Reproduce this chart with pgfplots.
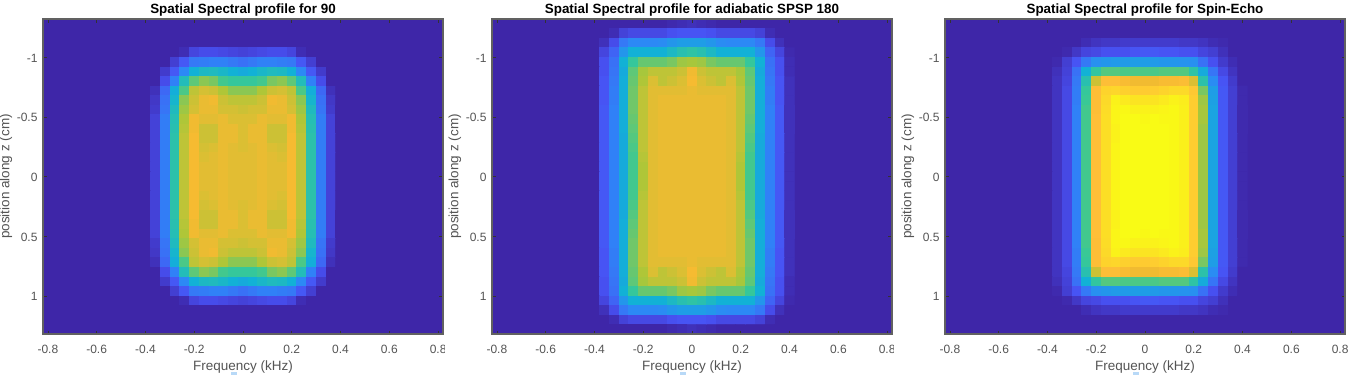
\documentclass[border=0pt]{standalone}
\usepackage{pgfplots}
\usepackage{pgfplotstable}
\usepackage{fontspec}
\setmainfont{Liberation Sans}
\pgfplotsset{compat=1.18}
\definecolor{parbg}{rgb}{0.2422,0.1504,0.6603}
\definecolor{axgray}{gray}{0.38}
\definecolor{tickgray}{gray}{0.20}
\definecolor{labgray}{gray}{0.33}
\definecolor{speck}{rgb}{0.72,0.85,0.97}

% rows: y=-1.28..1.28 step 0.08 ; columns: x=-0.40..0.40 step 0.04
\pgfplotstableread[header=false]{
0 0 0 0 0 0 0 0 0 0 0 0 0 0 0 0 0 0 0 0 0
0 0 0 0 0 0 0 0 0 0 0 0 0 0 0 0 0 0 0 0 0
0 0 0 0 0 0 0 0 0 0 0 0 0 0 0 0 0 0 0 0 0
0 0 0 0 2 9 11 11 10 9 8 9 10 11 11 9 2 0 0 0 0
0 0 0 7 14 22 23 24 24 22 20 22 24 24 23 22 14 7 0 0 0
0 0 6 14 26 38 42 43 41 38 36 38 41 43 42 38 26 14 6 0 0
0 0 11 24 44 55 60 58 52 50 50 50 52 58 60 55 44 24 11 0 0
0 3 18 37 53 66 69 68 64 60 60 60 64 68 69 66 53 37 18 3 0
0 5 20 40 60 68 72 73 68 66 66 66 68 73 72 68 60 40 20 5 0
0 6 21 43 62 69 72 72 69 69 68 69 69 72 72 69 62 43 21 6 0
0 8 23 45 64 73 71 71 72 70 70 70 72 71 71 73 64 45 23 8 0
0 8 23 46 65 73 68 68 72 72 70 72 72 68 68 73 65 46 23 8 0
0 8 23 47 66 74 68 68 72 72 70 72 72 68 68 74 66 47 23 8 0
0 8 23 47 66 74 69 70 72 71 70 71 72 70 69 74 66 47 23 8 0
0 8 23 47 66 74 70 71 72 71 71 71 72 71 70 74 66 47 23 8 0
0 8 23 47 66 74 71 71 72 71 71 71 72 71 71 74 66 47 23 8 0
0 8 23 47 66 74 71 71 72 71 71 71 72 71 71 74 66 47 23 8 0
0 8 23 47 66 74 71 71 72 71 71 71 72 71 71 74 66 47 23 8 0
0 8 23 47 66 74 70 71 72 71 71 71 72 71 70 74 66 47 23 8 0
0 8 23 47 66 74 69 70 72 71 70 71 72 70 69 74 66 47 23 8 0
0 8 23 47 66 74 68 68 72 72 70 72 72 68 68 74 66 47 23 8 0
0 8 23 46 65 73 68 68 72 72 70 72 72 68 68 73 65 46 23 8 0
0 8 23 45 64 73 71 71 72 70 70 70 72 71 71 73 64 45 23 8 0
0 6 21 43 62 69 72 72 69 69 68 69 69 72 72 69 62 43 21 6 0
0 5 20 40 60 68 72 73 68 66 66 66 68 73 72 68 60 40 20 5 0
0 3 18 37 53 66 69 68 64 60 60 60 64 68 69 66 53 37 18 3 0
0 0 11 24 44 55 60 58 52 50 50 50 52 58 60 55 44 24 11 0 0
0 0 6 14 26 38 42 43 41 38 36 38 41 43 42 38 26 14 6 0 0
0 0 0 7 14 22 23 24 24 22 20 22 24 24 23 22 14 7 0 0 0
0 0 0 0 2 9 11 11 10 9 8 9 10 11 11 9 2 0 0 0 0
0 0 0 0 0 0 0 0 0 0 0 0 0 0 0 0 0 0 0 0 0
0 0 0 0 0 0 0 0 0 0 0 0 0 0 0 0 0 0 0 0 0
0 0 0 0 0 0 0 0 0 0 0 0 0 0 0 0 0 0 0 0 0
}\tabA

\pgfplotstableread[header=false]{
0 0 0 0 0 0 0 0 1 2 3 2 1 0 0 0 0 0 0 0 0
0 0 2 8 10 10 10 10 12 13 13 13 12 10 10 10 10 8 2 0 0
0 3 11 22 26 26 26 27 30 32 32 32 30 27 26 26 26 22 11 3 0
0 9 17 30 38 38 38 38 42 46 48 46 42 38 38 38 38 30 17 9 1
0 12 20 38 50 56 56 56 58 62 63 62 58 56 56 56 50 38 20 12 2
0 12 21 36 55 63 66 66 66 68 73 68 66 66 66 63 55 36 21 12 2
0 13 22 37 56 64 70 66 68 70 74 70 68 66 70 64 56 37 22 13 3
0 13 23 37 57 66 71 71 71 71 72 71 71 71 71 66 57 37 23 13 3
0 13 23 37 57 66 71 72 72 72 72 72 72 72 71 66 57 37 23 13 3
0 14 24 37 57 66 71 72 72 72 72 72 72 72 71 66 57 37 24 14 3
0 14 24 37 56 66 71 72 72 72 72 72 72 72 71 66 56 37 24 14 3
0 14 24 37 55 66 71 72 72 72 72 72 72 72 71 66 55 37 24 14 3
0 14 24 36 54 66 71 72 72 72 72 72 72 72 71 66 54 36 24 14 3
0 14 24 36 53 66 71 72 72 72 72 72 72 72 71 66 53 36 24 14 3
0 14 24 36 52 65 71 72 72 72 72 72 72 72 71 65 52 36 24 14 3
0 14 24 36 52 64 71 72 72 72 72 72 72 72 71 64 52 36 24 14 3
0 14 24 36 52 64 71 72 72 72 72 72 72 72 71 64 52 36 24 14 3
0 14 24 36 52 64 71 72 72 72 72 72 72 72 71 64 52 36 24 14 3
0 14 24 36 52 65 71 72 72 72 72 72 72 72 71 65 52 36 24 14 3
0 14 24 36 53 66 71 72 72 72 72 72 72 72 71 66 53 36 24 14 3
0 14 24 36 54 66 71 72 72 72 72 72 72 72 71 66 54 36 24 14 3
0 14 24 37 55 66 71 72 72 72 72 72 72 72 71 66 55 37 24 14 3
0 14 24 37 56 66 71 72 72 72 72 72 72 72 71 66 56 37 24 14 3
0 14 24 37 57 66 71 72 72 72 72 72 72 72 71 66 57 37 24 14 3
0 13 23 37 57 66 71 72 72 72 72 72 72 72 71 66 57 37 23 13 3
0 13 23 37 57 66 71 71 71 71 72 71 71 71 71 66 57 37 23 13 3
0 13 22 37 56 64 70 66 68 70 74 70 68 66 70 64 56 37 22 13 3
0 12 21 36 55 63 66 66 66 68 73 68 66 66 66 63 55 36 21 12 2
0 12 20 38 50 56 56 56 58 62 63 62 58 56 56 56 50 38 20 12 2
0 9 17 30 38 38 38 38 42 46 48 46 42 38 38 38 38 30 17 9 1
0 3 11 22 26 26 26 27 30 32 32 32 30 27 26 26 26 22 11 3 0
0 0 2 8 10 10 10 10 12 13 13 13 12 10 10 10 10 8 2 0 0
0 0 0 0 0 0 0 0 1 2 3 2 1 0 0 0 0 0 0 0 0
}\tabB

\pgfplotstableread[header=false]{
0 0 0 0 0 0 0 0 0 0 0 0 0 0 0 0 0 0 0 0 0
0 0 0 0 0 0 0 0 0 0 0 0 0 0 0 0 0 0 0 0 0
0 0 0 0 2 4 5 5 6 6 6 6 6 6 5 5 4 2 1 0 0
0 0 1 5 9 10 12 12 12 13 14 14 13 13 12 12 9 7 3 0 0
0 1 7 13 22 28 30 31 31 32 32 31 30 30 29 28 20 12 6 2 0
0 3 8 20 38 49 54 54 53 53 53 53 54 54 54 48 36 21 10 4 0
0 4 9 22 46 68 78 78 75 73 73 73 75 75 77 70 47 27 13 6 0
0 4 10 23 50 78 86 87 85 83 83 84 86 88 88 82 58 32 14 7 1
0 4 10 23 51 78 88 97 94 92 92 92 94 97 95 84 62 33 14 7 1
0 4 10 24 52 78 89 98 99 97 97 97 98 99 96 84 63 34 14 7 1
0 4 10 24 52 79 90 98 100 100 99 100 99 99 96 84 63 34 14 7 1
0 4 10 24 52 79 90 97 100 100 100 100 100 99 96 84 62 34 14 7 1
0 4 10 24 52 79 90 97 100 100 100 100 100 99 96 84 62 34 14 7 1
0 4 10 24 52 79 90 98 100 100 100 100 100 99 96 84 62 34 14 7 1
0 4 10 24 52 79 90 98 100 100 100 100 100 99 96 84 62 34 14 7 1
0 4 10 24 52 79 90 98 100 100 100 100 100 99 96 84 62 34 14 7 1
0 4 10 24 52 79 90 98 100 100 100 100 100 99 96 84 62 34 14 7 1
0 4 10 24 52 79 90 98 100 100 100 100 100 99 96 84 62 34 14 7 1
0 4 10 24 52 79 90 98 100 100 100 100 100 99 96 84 62 34 14 7 1
0 4 10 24 52 79 90 98 100 100 100 100 100 99 96 84 62 34 14 7 1
0 4 10 24 52 79 90 97 100 100 100 100 100 99 96 84 62 34 14 7 1
0 4 10 24 52 79 90 97 100 100 100 100 100 99 96 84 62 34 14 7 1
0 4 10 24 52 79 90 98 100 100 99 100 99 99 96 84 63 34 14 7 1
0 4 10 24 52 78 89 98 99 97 97 97 98 99 96 84 63 34 14 7 1
0 4 10 23 51 78 88 97 94 92 92 92 94 97 95 84 62 33 14 7 1
0 4 10 23 50 78 86 87 85 83 83 84 86 88 88 82 58 32 14 7 1
0 4 9 22 46 68 78 78 75 73 73 73 75 75 77 70 47 27 13 6 0
0 3 8 20 38 49 54 54 53 53 53 53 54 54 54 48 36 21 10 4 0
0 1 7 13 22 28 30 31 31 32 32 31 30 30 29 28 20 12 6 2 0
0 0 1 5 9 10 12 12 12 13 14 14 13 13 12 12 9 7 3 0 0
0 0 0 0 2 4 5 5 6 6 6 6 6 6 5 5 4 2 1 0 0
0 0 0 0 0 0 0 0 0 0 0 0 0 0 0 0 0 0 0 0 0
0 0 0 0 0 0 0 0 0 0 0 0 0 0 0 0 0 0 0 0 0
}\tabC

% turns a table into the coordinate list of a matrix plot
\newcommand{\buildpts}[2]{%
  \gdef#2{}%
  \pgfplotsforeachungrouped \i in {0,...,32}{%
    \pgfmathsetmacro\yy{-1.28+0.08*\i}%
    \pgfplotsforeachungrouped \j in {0,...,20}{%
      \pgfmathsetmacro\xx{-0.40+0.04*\j}%
      \pgfplotstablegetelem{\i}{[index]\j}\of#1%
      \xdef#2{#2 (\xx,\yy) [\pgfplotsretval]}%
    }%
  }%
}
\buildpts{\tabA}{\ptsA}
\buildpts{\tabB}{\ptsB}
\buildpts{\tabC}{\ptsC}

\pgfplotsset{
  panel/.style={
    scale only axis, width=400pt, height=315pt,
    anchor=south west,
    xmin=-0.82, xmax=0.82, ymin=-1.32, ymax=1.32,
    y dir=reverse,
    axis on top,
    axis background/.style={fill=parbg},
    xtick={-0.8,-0.6,-0.4,-0.2,0,0.2,0.4,0.6,0.8},
    xticklabels={-0.8,-0.6,-0.4,-0.2,0,0.2,0.4,0.6,0.8},
    ytick={-1,-0.5,0,0.5,1},
    yticklabels={-1,-0.5,0,0.5,1},
    tick align=inside, tickwidth=3.5pt,
    tick style={tickgray,line width=0.6pt},
    axis line style={axgray,line width=1.2pt},
    ticklabel style={font=\fontsize{12}{14}\selectfont,text=labgray},
    xticklabel style={yshift=-8pt},
    yticklabel style={xshift=-2pt,yshift=-1pt},
    xlabel={Frequency (kHz)},
    ylabel={position along z (cm)},
    label style={font=\fontsize{13.5}{15}\selectfont,text=labgray},
    xlabel style={at={(axis description cs:0.5,0)},anchor=center,yshift=-33.5pt},
    ylabel style={at={(axis description cs:0,0.5)},anchor=center,yshift=37pt},
    title style={font=\bfseries\fontsize{13.4}{15}\selectfont,at={(axis description cs:0.5,1)},anchor=base,yshift=0pt},
    colormap={par}{
      rgb(0pt)=(0.2422,0.1504,0.6603)
      rgb(127pt)=(0.2810,0.3228,0.9579)
      rgb(254pt)=(0.1786,0.5289,0.9682)
      rgb(381pt)=(0.0689,0.6948,0.8394)
      rgb(508pt)=(0.2161,0.7843,0.5923)
      rgb(635pt)=(0.6720,0.7793,0.2227)
      rgb(735pt)=(0.9600,0.7300,0.1900)
      rgb(790pt)=(1.0000,0.7500,0.2200)
      rgb(1000pt)=(0.9769,0.9839,0.0805)
    },
    point meta min=0, point meta max=100,
  },
  cells/.style={matrix plot*, mesh/cols=21, point meta=explicit, shader=flat corner},
}

\begin{document}
\begin{tikzpicture}[x=1pt,y=1pt]
\path[use as bounding box] (0,0) rectangle (1350,375);
\begin{axis}[panel, at={(43pt,41pt)}, title={Spatial Spectral profile for 90}]
\edef\tmp{\noexpand\addplot[cells] coordinates {\ptsA};}\tmp
\end{axis}
\fill[white] (444.5,17) rectangle (451,38);
\fill[speck] (230.5,0) rectangle (236.5,3);
\begin{axis}[panel, at={(492pt,41pt)}, title={Spatial Spectral profile for adiabatic SPSP 180}]
\edef\tmp{\noexpand\addplot[cells] coordinates {\ptsB};}\tmp
\end{axis}
\fill[white] (893.5,17) rectangle (900,38);
\fill[speck] (679.5,0) rectangle (685.5,3);
\begin{axis}[panel, at={(945pt,41pt)}, title={Spatial Spectral profile for Spin-Echo}]
\edef\tmp{\noexpand\addplot[cells] coordinates {\ptsC};}\tmp
\end{axis}
\fill[speck] (1133,0) rectangle (1139,3);
\end{tikzpicture}
\end{document}
